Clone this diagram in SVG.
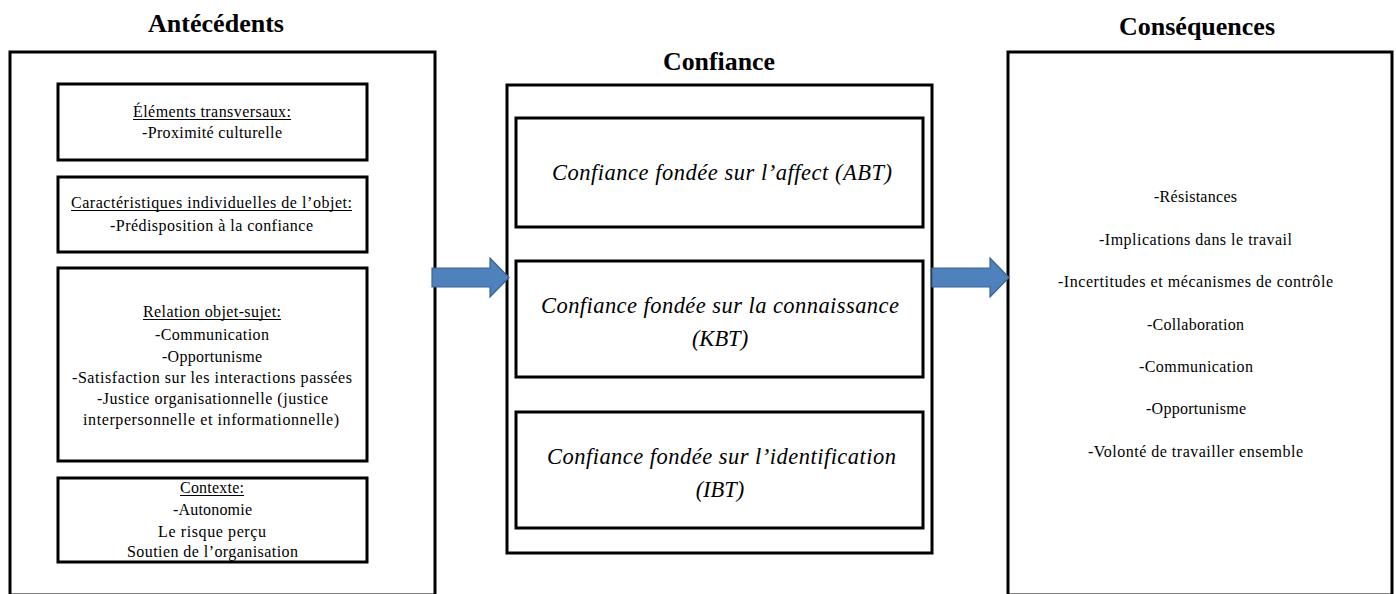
<svg xmlns="http://www.w3.org/2000/svg" width="1396" height="594" viewBox="0 0 1396 594">
<style>
  .box { fill: #ffffff; stroke: #000000; stroke-width: 3; }
  .title { font-family: "Liberation Serif", "Times New Roman", serif; font-weight: bold; font-size: 25px; fill: #000; }
  .t { font-family: "Liberation Serif", "Times New Roman", serif; font-size: 16px; fill: #000; }
  .ul { stroke: #000; stroke-width: 1; }
  .it { font-family: "Liberation Serif", "Times New Roman", serif; font-style: italic; font-size: 22.5px; fill: #000; }
  .arrow { fill: #4F81BD; stroke: #3A6596; stroke-width: 1.2; }
</style>
<rect width="1396" height="594" fill="#ffffff"/>

<g id="antecedents">
  <text class="title" x="148" y="32" textLength="136" lengthAdjust="spacingAndGlyphs">Antécédents</text>
  <rect class="box" x="10" y="52" width="425" height="543"/>
  <g id="elements-transversaux">
    <rect class="box" x="58" y="84" width="309" height="76"/>
    <text class="t" x="133" y="117" textLength="158" lengthAdjust="spacing">Éléments transversaux:</text>
    <line class="ul" x1="133" y1="119.5" x2="291" y2="119.5"/>
    <text class="t" x="142" y="138" textLength="140" lengthAdjust="spacing">-Proximité culturelle</text>
  </g>
  <g id="caracteristiques">
    <rect class="box" x="58" y="177" width="309" height="75"/>
    <text class="t" x="71" y="208" textLength="281" lengthAdjust="spacing">Caractéristiques individuelles de l’objet:</text>
    <line class="ul" x1="71" y1="210.5" x2="352" y2="210.5"/>
    <text class="t" x="110" y="231" textLength="203" lengthAdjust="spacing">-Prédisposition à la confiance</text>
  </g>
  <g id="relation">
    <rect class="box" x="58" y="268" width="309" height="193"/>
    <text class="t" x="143" y="317" textLength="138" lengthAdjust="spacing">Relation objet-sujet:</text>
    <line class="ul" x1="143" y1="319.5" x2="281" y2="319.5"/>
    <text class="t" x="155" y="340" textLength="114" lengthAdjust="spacing">-Communication</text>
    <text class="t" x="162" y="362" textLength="100" lengthAdjust="spacing">-Opportunisme</text>
    <text class="t" x="72" y="383" textLength="280" lengthAdjust="spacing">-Satisfaction sur les interactions passées</text>
    <text class="t" x="97" y="404" textLength="231" lengthAdjust="spacing">-Justice organisationnelle (justice</text>
    <text class="t" x="83" y="425" textLength="256" lengthAdjust="spacing">interpersonnelle et informationnelle)</text>
  </g>
  <g id="contexte">
    <rect class="box" x="58" y="478" width="309" height="84"/>
    <text class="t" x="180" y="493" textLength="64" lengthAdjust="spacing">Contexte:</text>
    <line class="ul" x1="180" y1="495.5" x2="244" y2="495.5"/>
    <text class="t" x="173" y="515" textLength="79" lengthAdjust="spacing">-Autonomie</text>
    <text class="t" x="158" y="537" textLength="108" lengthAdjust="spacing">Le risque perçu</text>
    <text class="t" x="127" y="557" textLength="171" lengthAdjust="spacing">Soutien de l’organisation</text>
  </g>
</g>

<g id="confiance">
  <text class="title" x="663" y="70" textLength="112" lengthAdjust="spacingAndGlyphs">Confiance</text>
  <rect class="box" x="507" y="85" width="425" height="468"/>
  <g id="abt">
    <rect class="box" x="516" y="118" width="407" height="109"/>
    <text class="it" x="552" y="180" textLength="340" lengthAdjust="spacing">Confiance fondée sur l’affect (ABT)</text>
  </g>
  <g id="kbt">
    <rect class="box" x="516" y="261" width="407" height="116"/>
    <text class="it" x="541" y="313" textLength="358" lengthAdjust="spacing">Confiance fondée sur la connaissance</text>
    <text class="it" x="720" y="346" text-anchor="middle">(KBT)</text>
  </g>
  <g id="ibt">
    <rect class="box" x="516" y="412" width="407" height="116"/>
    <text class="it" x="547" y="464" textLength="349" lengthAdjust="spacing">Confiance fondée sur l’identification</text>
    <text class="it" x="720" y="497" text-anchor="middle">(IBT)</text>
  </g>
</g>

<g id="consequences">
  <text class="title" x="1119" y="35" textLength="156" lengthAdjust="spacingAndGlyphs">Conséquences</text>
  <rect class="box" x="1008" y="52" width="384" height="543"/>
  <text class="t" x="1154" y="202" textLength="83" lengthAdjust="spacing">-Résistances</text>
  <text class="t" x="1099" y="245" textLength="193" lengthAdjust="spacing">-Implications dans le travail</text>
  <text class="t" x="1058" y="287" textLength="275" lengthAdjust="spacing">-Incertitudes et mécanismes de contrôle</text>
  <text class="t" x="1147" y="330" textLength="97" lengthAdjust="spacing">-Collaboration</text>
  <text class="t" x="1139" y="372" textLength="114" lengthAdjust="spacing">-Communication</text>
  <text class="t" x="1146" y="414" textLength="100" lengthAdjust="spacing">-Opportunisme</text>
  <text class="t" x="1088" y="457" textLength="215" lengthAdjust="spacing">-Volonté de travailler ensemble</text>
</g>

<g id="connectors">
  <path class="arrow" d="M432,268 H490 V258 L509,277.5 L490,297 V287 H432 Z"/>
  <path class="arrow" d="M932,268 H990 V258 L1009,277.5 L990,297 V287 H932 Z"/>
</g>
</svg>
